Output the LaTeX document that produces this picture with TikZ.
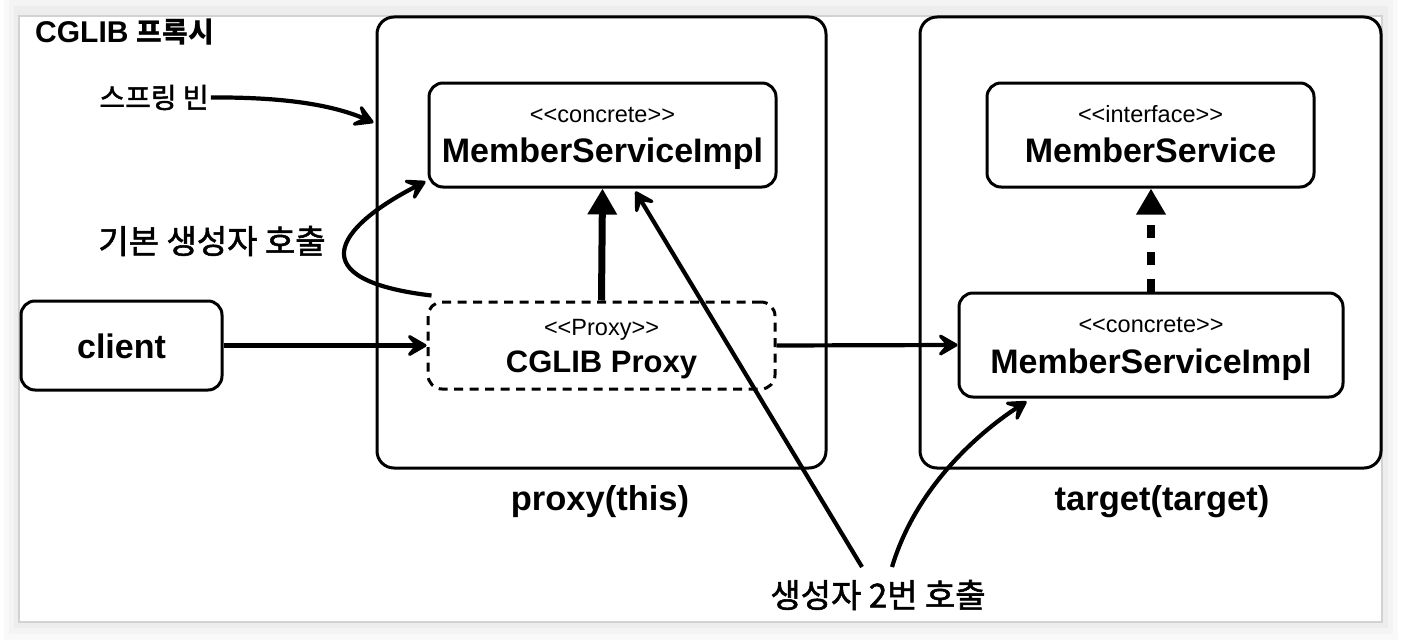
\documentclass[tikz,border=0pt]{standalone}
\usepackage{fontspec}
\setmainfont{Liberation Sans}
\newfontfamily\kr{Noto Sans CJK KR}
\newfontfamily\krm{Noto Sans CJK KR}[FakeBold=1.6]
\usetikzlibrary{arrows.meta,calc}
\newcommand\dlt{<\kern0pt<}
\newcommand\dgt{>\kern0pt>}
\newcommand\fsz[1]{\fontsize{#1}{#1}\selectfont}
\begin{document}
\begin{tikzpicture}[x=1pt,y=-1pt,
  box/.style={draw=black,line width=3pt,rounded corners=14pt,inner sep=0pt},
  cont/.style={draw=black,line width=3pt,rounded corners=17pt,inner sep=0pt},
  dbox/.style={box,dash pattern=on 9pt off 6.5pt},
  txt/.style={inner sep=2pt},
  stereo/.style={txt,anchor=base,font=\fsz{23.5}},
  cls/.style={txt,anchor=base,font=\fsz{34}\bfseries},
  krtxt/.style={txt,font=\krm\fsz{33}},
  sk/.style={line width=4.2pt,-{Stealth[length=26pt,width=30pt,inset=13pt,round]}},
  thickarrow/.style={line width=7pt,-{Triangle[length=26pt,width=28pt]}},
  dasharrow/.style={line width=8pt,dash pattern=on 13pt off 14pt,-{Triangle[length=26pt,width=28pt]}}
]
\useasboundingbox (0,0) rectangle (1402,642);
% frame and shadow
\fill[white] (0,0) rectangle (1402,642);
\fill[gray!5] (4,0) rectangle (1398,640);
\fill[gray!9] (9,0) rectangle (1393,634);
\fill[gray!14] (14,6) rectangle (1388,628);
\fill[white] (19,16) rectangle (1382,622);
\draw[gray!35,line width=2pt] (19,16) rectangle (1382,622);

% containers
\node[cont,minimum width=449pt,minimum height=451pt] (pcont) at (601.5,242.5) {};
\node[cont,minimum width=461pt,minimum height=451pt] (tcont) at (1150.5,242.5) {};

% boxes
\node[box,minimum width=347pt,minimum height=104pt] (pmsi) at (602.5,135) {};
\node[dbox,minimum width=347pt,minimum height=87pt] (pproxy) at (601.5,345.5) {};
\node[box,minimum width=201pt,minimum height=89pt] (client) at (121.5,345.5) {};
\node[box,minimum width=327pt,minimum height=104pt] (tms) at (1150.5,135) {};
\node[box,minimum width=384pt,minimum height=104pt] (tmsi) at (1151,345) {};

% box texts
\node[stereo] (pmsiS) at (602.5,122) {\dlt concrete\dgt};
\node[cls] (pmsiT) at (602.5,162) {MemberServiceImpl};
\node[stereo] (pproxyS) at (601.5,335) {\dlt Proxy\dgt};
\node[txt,anchor=base,font=\fsz{31}\bfseries] (pproxyT) at (601.5,372) {CGLIB Proxy};
\node[cls] (clientT) at (121.5,358) {client};
\node[stereo] (tmsS) at (1150.5,122) {\dlt interface\dgt};
\node[cls] (tmsT) at (1150.5,162) {MemberService};
\node[stereo] (tmsiS) at (1151,332) {\dlt concrete\dgt};
\node[cls] (tmsiT) at (1151,373) {MemberServiceImpl};

% labels
\node[txt,anchor=base west] (title) at (33,43) {\fsz{30}\bfseries CGLIB \kr\fsz{28}\bfseries 프록시};
\node[txt,font=\krm\fsz{28}] (spring) at (154,97.5) {스프링 빈};
\node[krtxt] (basic) at (212,241) {기본 생성자 호출};
\node[krtxt] (call2) at (878,595) {생성자 2번 호출};
\node[cls,font=\fsz{34.5}\bfseries] (plabel) at (600,510) {proxy(this)};
\node[cls,font=\fsz{34.5}\bfseries] (tlabel) at (1162,510) {target(target)};

% connectors
\draw[thickarrow] (pproxy.north) -- (pmsi.south);
\draw[dasharrow] (tmsi.north) -- (tmsi.north |- tms.south);
\draw[sk] (spring.east) .. controls (280,97) and (330,104) .. ($(pcont.west)+(-2,-120)$);
\draw[sk] (client.east) -- (pproxy.west);
\draw[sk] (pproxy.east) -- (tmsi.west);
\draw[sk] ($(pproxy.north west)+(5,-5)$) .. controls (300,280) and (335,228) .. ($(pmsi.south west)+(-2,-7)$);
\coordinate (c2a) at (862,567);
\coordinate (c2b) at (892,567);
\draw[sk] (c2a) -- ($(pmsi.south)+(33,3)$);
\draw[sk] (c2b) .. controls (915,490) and (975,435) .. ($(tmsi.south west)+(69,3)$);
\end{tikzpicture}
\end{document}
